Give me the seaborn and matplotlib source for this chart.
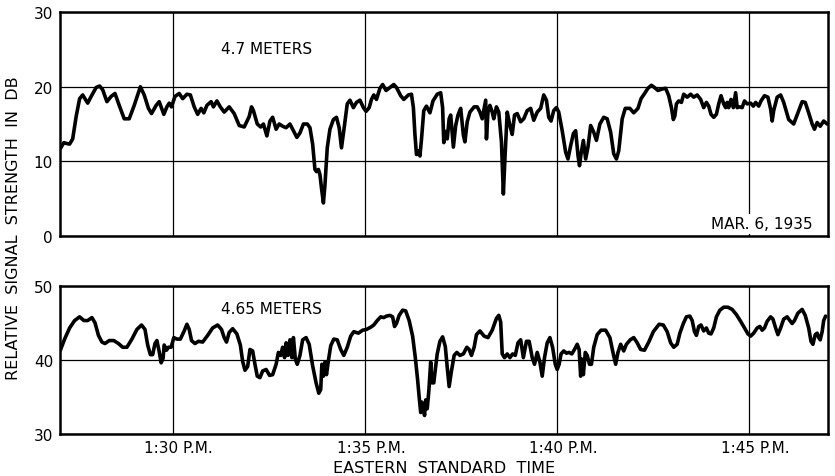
import matplotlib
matplotlib.use("Agg")
import matplotlib.pyplot as plt
import matplotlib.transforms as mtransforms
import seaborn as sns
import pandas as pd

# Minutes after 1:00 P.M. and relative signal strength (dB)
top_minutes = [27.08, 27.17, 27.23, 27.32, 27.40, 27.49, 27.58, 27.66, 27.79, 27.88,
               28.01, 28.10, 28.18, 28.29, 28.40, 28.50, 28.61, 28.74, 28.87, 29.00,
               29.16, 29.26, 29.37, 29.45, 29.57, 29.65, 29.77, 29.85, 29.91, 29.97,
               30.06, 30.17, 30.26, 30.37, 30.46, 30.56, 30.65, 30.74, 30.81, 30.89,
               31.00, 31.06, 31.15, 31.24, 31.34, 31.47, 31.60, 31.73, 31.86, 31.99,
               32.05, 32.10, 32.20, 32.29, 32.36, 32.45, 32.53, 32.60, 32.69, 32.77,
               32.86, 32.95, 33.05, 33.14, 33.23, 33.31, 33.40, 33.50, 33.57, 33.64,
               33.70, 33.74, 33.79, 33.83, 33.87, 33.92, 33.96, 34.02, 34.09, 34.18,
               34.26, 34.33, 34.39, 34.46, 34.54, 34.61, 34.70, 34.78, 34.87, 34.96,
               35.03, 35.11, 35.17, 35.23, 35.30, 35.39, 35.46, 35.55, 35.65, 35.75,
               35.82, 35.93, 36.01, 36.13, 36.21, 36.26, 36.30, 36.34, 36.39, 36.43,
               36.47, 36.53, 36.60, 36.69, 36.77, 36.88, 36.97, 37.02, 37.05, 37.10,
               37.14, 37.19, 37.23, 37.30, 37.36, 37.42, 37.49, 37.56, 37.60, 37.66,
               37.73, 37.84, 37.92, 37.99, 38.05, 38.10, 38.14, 38.16, 38.20, 38.25,
               38.31, 38.35, 38.42, 38.48, 38.55, 38.60, 38.64, 38.70, 38.77, 38.83,
               38.89, 38.96, 39.05, 39.13, 39.22, 39.31, 39.39, 39.48, 39.57, 39.65,
               39.72, 39.78, 39.84, 39.91, 39.98, 40.04, 40.13, 40.22, 40.28, 40.35,
               40.42, 40.48, 40.54, 40.58, 40.62, 40.68, 40.74, 40.80, 40.87, 40.95,
               41.02, 41.11, 41.21, 41.30, 41.39, 41.47, 41.54, 41.60, 41.69, 41.77,
               41.89, 41.99, 42.10, 42.18, 42.26, 42.36, 42.45, 42.53, 42.62, 42.73,
               42.82, 42.90, 42.97, 43.02, 43.06, 43.10, 43.16, 43.23, 43.29, 43.38,
               43.47, 43.55, 43.64, 43.73, 43.81, 43.88, 43.94, 44.00, 44.07, 44.14,
               44.20, 44.26, 44.33, 44.38, 44.42, 44.46, 44.52, 44.58, 44.64, 44.68,
               44.75, 44.81, 44.87, 44.94, 45.03, 45.10, 45.16, 45.24, 45.30, 45.39,
               45.48, 45.55, 45.59, 45.63, 45.72, 45.81, 45.89, 46.02, 46.15, 46.26,
               46.37, 46.45, 46.54, 46.63, 46.69, 46.76, 46.84, 46.93, 47.02]
top_db = [11.7, 12.5, 12.4, 12.3, 13.0, 16.0, 18.4, 18.9, 17.8, 18.7,
          19.9, 20.1, 19.6, 18.0, 18.7, 19.1, 17.5, 15.7, 15.7, 17.5,
          20.0, 18.9, 17.1, 16.4, 17.5, 18.0, 16.3, 17.3, 17.8, 17.3,
          18.7, 19.1, 18.4, 19.0, 18.9, 17.3, 16.3, 17.1, 16.5, 17.5,
          18.0, 17.3, 18.1, 17.3, 16.6, 17.3, 16.4, 14.8, 14.6, 16.0,
          17.3, 16.8, 15.0, 14.6, 15.0, 13.4, 15.4, 15.9, 14.3, 15.0,
          14.7, 14.5, 15.0, 14.1, 13.2, 13.8, 15.0, 15.0, 14.5, 12.3,
          8.9, 8.6, 8.9, 8.2, 6.4, 4.4, 6.8, 11.8, 14.3, 15.6,
          15.9, 14.5, 11.8, 14.5, 17.7, 18.2, 17.2, 17.9, 18.2, 17.2,
          16.7, 17.2, 18.3, 18.9, 18.3, 19.8, 20.3, 19.5, 19.9, 20.3,
          19.9, 18.8, 18.3, 18.9, 19.0, 17.2, 13.6, 10.9, 11.4, 10.7,
          12.9, 16.8, 17.4, 16.5, 18.1, 19.0, 19.2, 17.2, 12.5, 14.0,
          13.0, 15.7, 16.2, 11.9, 14.8, 16.2, 17.1, 13.5, 12.6, 15.3,
          16.6, 17.3, 17.3, 16.6, 15.7, 17.1, 18.2, 13.0, 16.6, 17.5,
          16.6, 15.7, 17.3, 16.6, 12.6, 5.6, 10.3, 16.6, 14.8, 13.6,
          16.2, 16.4, 15.3, 15.7, 16.8, 17.1, 15.5, 16.6, 17.1, 18.9,
          18.2, 15.9, 15.4, 16.8, 17.2, 16.6, 14.1, 11.2, 10.3, 12.1,
          13.7, 14.1, 10.8, 9.4, 11.0, 12.8, 10.3, 11.9, 14.8, 13.9,
          12.8, 15.0, 15.9, 15.7, 13.9, 11.0, 10.3, 11.4, 15.7, 17.1,
          17.1, 16.5, 17.1, 18.4, 19.0, 19.8, 20.2, 19.9, 19.5, 19.7,
          19.8, 18.8, 17.2, 15.6, 16.1, 17.7, 18.1, 17.9, 19.0, 18.6,
          19.0, 18.6, 18.9, 18.3, 17.2, 17.9, 17.4, 16.3, 15.9, 16.3,
          17.7, 18.8, 17.7, 17.2, 17.9, 17.2, 18.3, 17.2, 19.2, 17.2,
          17.3, 17.2, 18.1, 17.7, 17.8, 17.4, 17.9, 17.4, 18.1, 18.8,
          18.6, 17.0, 15.4, 16.8, 18.6, 18.9, 17.9, 15.6, 15.0, 16.5,
          18.0, 17.9, 16.5, 15.0, 14.3, 15.2, 14.7, 15.4, 15.0]

bottom_minutes = [27.08, 27.19, 27.32, 27.45, 27.58, 27.69, 27.79, 27.90, 27.98, 28.07,
                  28.16, 28.24, 28.35, 28.47, 28.59, 28.70, 28.81, 28.94, 29.07, 29.19,
                  29.28, 29.35, 29.42, 29.48, 29.54, 29.59, 29.65, 29.70, 29.75, 29.78,
                  29.84, 29.89, 29.96, 30.03, 30.11, 30.20, 30.30, 30.37, 30.43, 30.49,
                  30.58, 30.67, 30.78, 30.91, 31.04, 31.17, 31.27, 31.34, 31.40, 31.47,
                  31.56, 31.67, 31.76, 31.82, 31.88, 31.95, 32.01, 32.08, 32.14, 32.20,
                  32.27, 32.34, 32.43, 32.52, 32.60, 32.69, 32.75, 32.81, 32.86, 32.91,
                  32.95, 33.00, 33.05, 33.10, 33.14, 33.19, 33.24, 33.31, 33.38, 33.47,
                  33.55, 33.64, 33.73, 33.80, 33.85, 33.88, 33.92, 33.96, 34.00, 34.05,
                  34.11, 34.19, 34.28, 34.37, 34.45, 34.54, 34.63, 34.71, 34.83, 34.94,
                  35.04, 35.15, 35.23, 35.32, 35.41, 35.49, 35.56, 35.65, 35.72, 35.77,
                  35.82, 35.89, 35.98, 36.06, 36.15, 36.24, 36.31, 36.37, 36.41, 36.45,
                  36.48, 36.52, 36.55, 36.58, 36.62, 36.66, 36.71, 36.74, 36.79, 36.83,
                  36.88, 36.95, 37.02, 37.09, 37.14, 37.19, 37.25, 37.32, 37.39, 37.47,
                  37.56, 37.65, 37.71, 37.77, 37.84, 37.90, 37.99, 38.10, 38.20, 38.31,
                  38.42, 38.48, 38.53, 38.57, 38.63, 38.70, 38.77, 38.84, 38.91, 38.98,
                  39.05, 39.12, 39.20, 39.27, 39.35, 39.41, 39.48, 39.55, 39.61, 39.67,
                  39.74, 39.81, 39.88, 39.95, 40.00, 40.05, 40.10, 40.17, 40.24, 40.31,
                  40.38, 40.45, 40.52, 40.57, 40.61, 40.64, 40.68, 40.73, 40.78, 40.84,
                  40.89, 40.95, 41.04, 41.14, 41.26, 41.37, 41.45, 41.52, 41.58, 41.65,
                  41.73, 41.80, 41.90, 41.99, 42.08, 42.17, 42.27, 42.39, 42.50, 42.65,
                  42.76, 42.86, 42.95, 43.03, 43.12, 43.19, 43.28, 43.36, 43.45, 43.51,
                  43.57, 43.62, 43.68, 43.74, 43.81, 43.88, 43.94, 44.00, 44.07, 44.14,
                  44.23, 44.33, 44.44, 44.55, 44.66, 44.77, 44.87, 44.96, 45.03, 45.11,
                  45.20, 45.27, 45.33, 45.39, 45.46, 45.55, 45.61, 45.68, 45.74, 45.81,
                  45.89, 45.98, 46.05, 46.11, 46.17, 46.26, 46.37, 46.45, 46.54, 46.60,
                  46.65, 46.71, 46.76, 46.80, 46.84, 46.89, 46.93, 46.98]
bottom_db = [41.3, 42.8, 44.3, 45.3, 45.8, 45.3, 45.3, 45.7, 45.0, 43.3,
             42.4, 42.2, 42.6, 42.6, 42.2, 41.7, 41.7, 42.8, 44.1, 44.7,
             44.1, 42.0, 40.7, 40.7, 42.2, 42.6, 41.1, 39.6, 40.2, 42.0,
             41.3, 41.7, 41.7, 43.0, 42.8, 42.8, 43.9, 44.8, 44.1, 42.6,
             42.2, 42.5, 42.4, 43.3, 44.3, 44.7, 44.1, 43.0, 42.4, 43.7,
             44.2, 43.5, 42.0, 39.8, 38.6, 39.1, 41.4, 41.2, 39.4, 37.8,
             37.6, 38.5, 38.7, 37.9, 38.0, 39.4, 41.0, 40.6, 41.7, 40.3,
             42.3, 40.6, 42.7, 40.3, 43.0, 40.1, 39.4, 40.6, 42.7, 43.0,
             42.1, 39.2, 36.9, 35.5, 36.0, 39.4, 37.8, 39.7, 38.0, 39.9,
             41.9, 42.8, 42.7, 41.4, 40.6, 41.7, 43.2, 43.8, 43.6, 44.0,
             44.1, 44.4, 44.7, 45.3, 45.8, 45.7, 45.9, 46.0, 45.8, 44.5,
             44.9, 46.0, 46.7, 46.6, 45.3, 43.2, 40.3, 37.3, 35.0, 32.9,
             34.3, 33.6, 32.5, 34.6, 33.4, 35.7, 39.7, 36.9, 36.9, 38.7,
             40.8, 42.5, 43.1, 41.8, 39.0, 36.4, 38.5, 40.6, 41.0, 40.6,
             40.8, 41.7, 41.4, 40.6, 41.7, 43.4, 43.9, 43.2, 43.0, 44.0,
             45.6, 46.0, 45.1, 40.8, 40.3, 40.8, 40.3, 40.8, 40.6, 42.3,
             42.7, 40.3, 42.5, 42.5, 40.3, 39.4, 41.0, 39.7, 37.8, 40.3,
             42.3, 43.0, 41.7, 39.4, 38.7, 39.4, 40.8, 41.2, 40.9, 41.0,
             40.8, 41.4, 42.1, 41.4, 37.8, 40.1, 38.0, 41.0, 40.6, 39.4,
             39.4, 41.7, 43.4, 44.0, 44.0, 43.0, 41.0, 39.4, 41.0, 42.1,
             41.2, 42.1, 42.7, 43.0, 42.3, 41.4, 41.3, 42.5, 43.8, 44.8,
             44.7, 43.8, 42.3, 41.7, 42.1, 43.6, 44.9, 45.8, 45.9, 45.3,
             43.8, 43.3, 44.5, 44.7, 43.9, 44.3, 43.6, 43.5, 44.3, 45.8,
             46.7, 47.1, 47.1, 46.8, 46.1, 45.2, 44.3, 43.5, 43.2, 43.6,
             44.3, 44.5, 44.0, 44.3, 45.2, 45.8, 45.5, 44.3, 43.4, 44.3,
             45.5, 45.8, 45.3, 44.9, 45.3, 46.3, 46.8, 46.0, 44.3, 42.5,
             42.1, 43.4, 43.6, 43.0, 42.7, 43.8, 45.3, 45.9]

x_ticks = [30, 35, 40, 45]
x_tick_labels = ["1:30 P.M.", "1:35 P.M.", "1:40 P.M.", "1:45 P.M."]
top_yticks = [0, 10, 20, 30]
bottom_yticks = [30, 40, 50]

sns.set_style("white")
plt.rcParams["font.family"] = ["DejaVu Sans"]

fig = plt.figure(figsize=(8.35, 4.77), dpi=100)
fig.patch.set_facecolor("white")
ax_top = fig.add_axes([60 / 835, 1 - 236.7 / 477, 768.3 / 835, 223.4 / 477])
ax_bot = fig.add_axes([60 / 835, 1 - 435 / 477, 768.3 / 835, 148.3 / 477])

top_df = pd.DataFrame({"minute": top_minutes, "db": top_db})
bot_df = pd.DataFrame({"minute": bottom_minutes, "db": bottom_db})

line_kw = dict(color="black", linewidth=2.6, estimator=None, sort=False)
sns.lineplot(data=top_df, x="minute", y="db", ax=ax_top, **line_kw)
sns.lineplot(data=bot_df, x="minute", y="db", ax=ax_bot, **line_kw)

for ax, yt in ((ax_top, top_yticks), (ax_bot, bottom_yticks)):
    ax.set_xlim(27.07, 47.05)
    ax.set_ylim(yt[0], yt[-1])
    ax.set_yticks(yt)
    ax.set_xticks(x_ticks)
    ax.grid(True, color="black", linewidth=0.9)
    ax.set_axisbelow(True)
    ax.set_xlabel("")
    ax.set_ylabel("")
    for s in ax.spines.values():
        s.set_visible(True)
        s.set_color("black")
        s.set_linewidth(1.8)
    ax.tick_params(axis="both", length=0, labelsize=11, pad=5, colors="black")
    for line in ax.get_lines():
        line.set_solid_joinstyle("round")
        line.set_solid_capstyle("round")

ax_top.set_xticklabels([])
ax_bot.set_xticklabels(x_tick_labels)
ax_bot.tick_params(axis="x", pad=4)
offset = mtransforms.ScaledTranslation(6 / 100, 0, fig.dpi_scale_trans)
for lbl in ax_bot.get_xticklabels():
    lbl.set_transform(lbl.get_transform() + offset)

ax_top.text(267 / 835, 1 - 50 / 477, "4.7 METERS", transform=fig.transFigure,
            ha="center", va="center", fontsize=11, color="black")
ax_top.text(813 / 835, 1 - 225 / 477, "MAR. 6, 1935", transform=fig.transFigure,
            ha="right", va="center", fontsize=11, color="black",
            bbox=dict(facecolor="white", edgecolor="none", pad=1.5), zorder=5)
ax_bot.text(271 / 835, 1 - 310 / 477, "4.65 METERS", transform=fig.transFigure,
            ha="center", va="center", fontsize=11, color="black")

fig.text(14 / 835, 1 - 228 / 477, "RELATIVE  SIGNAL  STRENGTH  IN  DB", rotation=90,
         ha="center", va="center", fontsize=11.5, color="black")
fig.text(444 / 835, 1 - 469 / 477, "EASTERN  STANDARD  TIME",
         ha="center", va="center", fontsize=11.5, color="black")

fig.savefig("out.png", dpi=100, facecolor="white")
